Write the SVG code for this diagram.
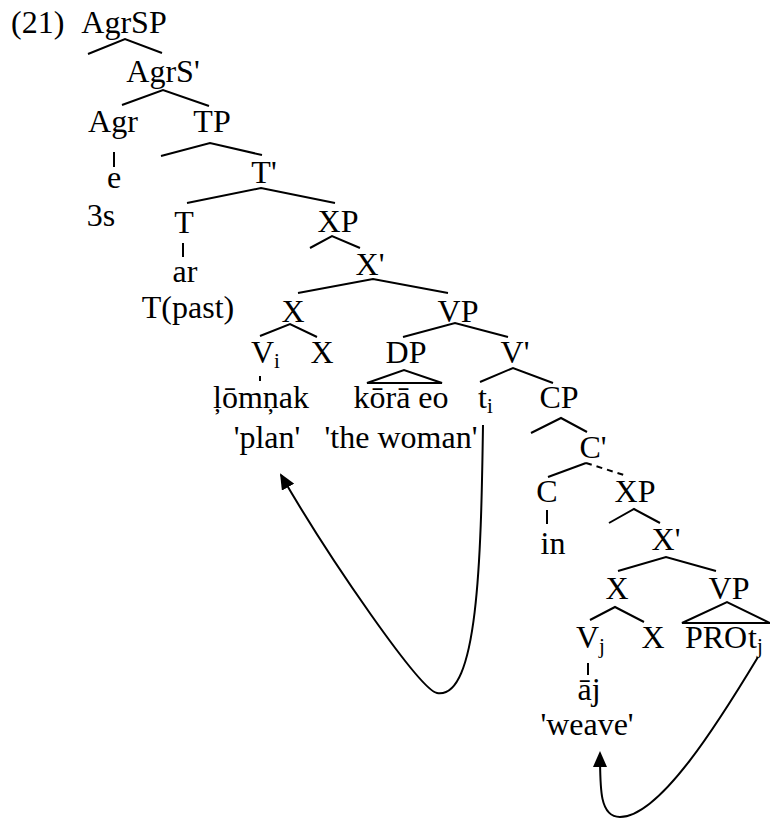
<svg xmlns="http://www.w3.org/2000/svg" width="770" height="819" viewBox="0 0 770 819" font-family="Liberation Serif, Times New Roman, serif">
<style>
text{font-family:'Liberation Serif','Times New Roman',serif;font-size:32px;fill:#000;text-anchor:middle}
text.s{text-anchor:start}
tspan.sub{font-size:21px}
.e{stroke:#000;stroke-width:2;fill:none}
.d{stroke:#000;stroke-width:2;fill:none;stroke-dasharray:6,5}
.arr{stroke:#000;stroke-width:2;fill:none;marker-end:url(#ah)}
</style>
<defs>
<marker id="ah" markerWidth="16" markerHeight="14" refX="14" refY="7" orient="auto" markerUnits="userSpaceOnUse" viewBox="0 0 16 14">
<path d="M0,0 L16,7 L0,14 z" fill="#000"/>
</marker>
</defs>
<g id="labels">
<text class="s" x="11" y="33">(21)</text>
<g id="n-AgrSP"><text x="124" y="33">AgrSP</text></g>
<g id="n-AgrS1"><text x="163" y="82">AgrS'</text></g>
<g id="n-Agr"><text x="113" y="132">Agr</text></g>
<g id="n-e"><text x="114" y="188">e</text></g>
<g id="n-3s"><text x="101" y="226">3s</text></g>
<g id="n-TP"><text x="212" y="132">TP</text></g>
<g id="n-T1"><text x="264" y="183">T'</text></g>
<g id="n-T"><text x="184" y="233">T</text></g>
<g id="n-ar"><text x="185" y="282">ar</text></g>
<g id="n-Tpast"><text x="188" y="318">T(past)</text></g>
<g id="n-XP1"><text x="338" y="232">XP</text></g>
<g id="n-X1b"><text x="370" y="275">X'</text></g>
<g id="n-X1"><text x="293" y="322">X</text></g>
<g id="n-VP1"><text x="458" y="322">VP</text></g>
<g id="n-Vi"><text class="s" x="251" y="363">V<tspan class="sub" dy="5">i</tspan></text></g>
<g id="n-X1x"><text x="322" y="363">X</text></g>
<g id="n-DP"><text x="406" y="363">DP</text></g>
<g id="n-lomnak"><text x="261" y="408">ļōmņak</text></g>
<g id="n-plan"><text x="267" y="448">'plan'</text></g>
<g id="n-korae"><text x="401" y="408">kōrā eo</text></g>
<g id="n-woman"><text x="401" y="448">'the woman'</text></g>
<g id="n-V1"><text x="515" y="363">V'</text></g>
<g id="n-ti"><text class="s" x="478" y="408">t<tspan class="sub" dy="5">i</tspan></text></g>
<g id="n-CP"><text x="559" y="408">CP</text></g>
<g id="n-C1"><text x="593" y="458">C'</text></g>
<g id="n-C"><text x="547" y="502">C</text></g>
<g id="n-in"><text x="553" y="554">in</text></g>
<g id="n-XP2"><text x="635" y="502">XP</text></g>
<g id="n-X2b"><text x="666" y="550">X'</text></g>
<g id="n-X2"><text x="617" y="599">X</text></g>
<g id="n-VP2"><text x="729" y="599">VP</text></g>
<g id="n-Vj"><text class="s" x="576" y="648">V<tspan class="sub" dy="5">j</tspan></text></g>
<g id="n-X2x"><text x="653" y="648">X</text></g>
<g id="n-PROtj"><text x="716" y="648">PRO</text><text class="s" x="748" y="648">t<tspan class="sub" dy="5">j</tspan></text></g>
<g id="n-aj"><text x="589" y="700">āj</text></g>
<g id="n-weave"><text x="587" y="735">'weave'</text></g>
</g>
<g id="connectors">
<path class="e" d="M88,54 L125,39 L162,53"/>
<path class="e" d="M122,105 L163,90 L209,106"/>
<path class="e" d="M114,152 L114,167"/>
<path class="e" d="M161,156 L210,143 L262,155"/>
<path class="e" d="M187,203 L261,188 L335,203"/>
<path class="e" d="M183,243 L183,257"/>
<path class="e" d="M310,248 L332,236 L360,248"/>
<path class="e" d="M298,293 L373,279 L448,293"/>
<path class="e" d="M260,336 L290,324 L317,337"/>
<path class="e" d="M403,337 L455,323 L508,337"/>
<path class="e" d="M367,383 L404,370 L442,383 Z"/>
<path class="e" d="M260,376 L260,381"/>
<path class="e" d="M480,382 L513,368 L553,383"/>
<path class="e" d="M531,433 L561,418 L587,432"/>
<path class="e" d="M548,477 L586,463"/>
<path class="d" d="M586,463 L624,475"/>
<path class="e" d="M547,510 L547,524"/>
<path class="e" d="M609,523 L634,509 L660,523"/>
<path class="e" d="M618,571 L666,557 L716,571"/>
<path class="e" d="M590,620 L615,607 L644,622"/>
<path class="e" d="M682,623 L727,602 L770,623 Z"/>
<path class="e" d="M588,663 L588,675"/>
<path class="arr" d="M483,425 C481,560 478,700 437,693 C420,690 330,560 281,475"/>
<path class="arr" d="M758,657 C720,720 660,817 620,817 C600,817 600,790 600,753"/>
</g>
</svg>
